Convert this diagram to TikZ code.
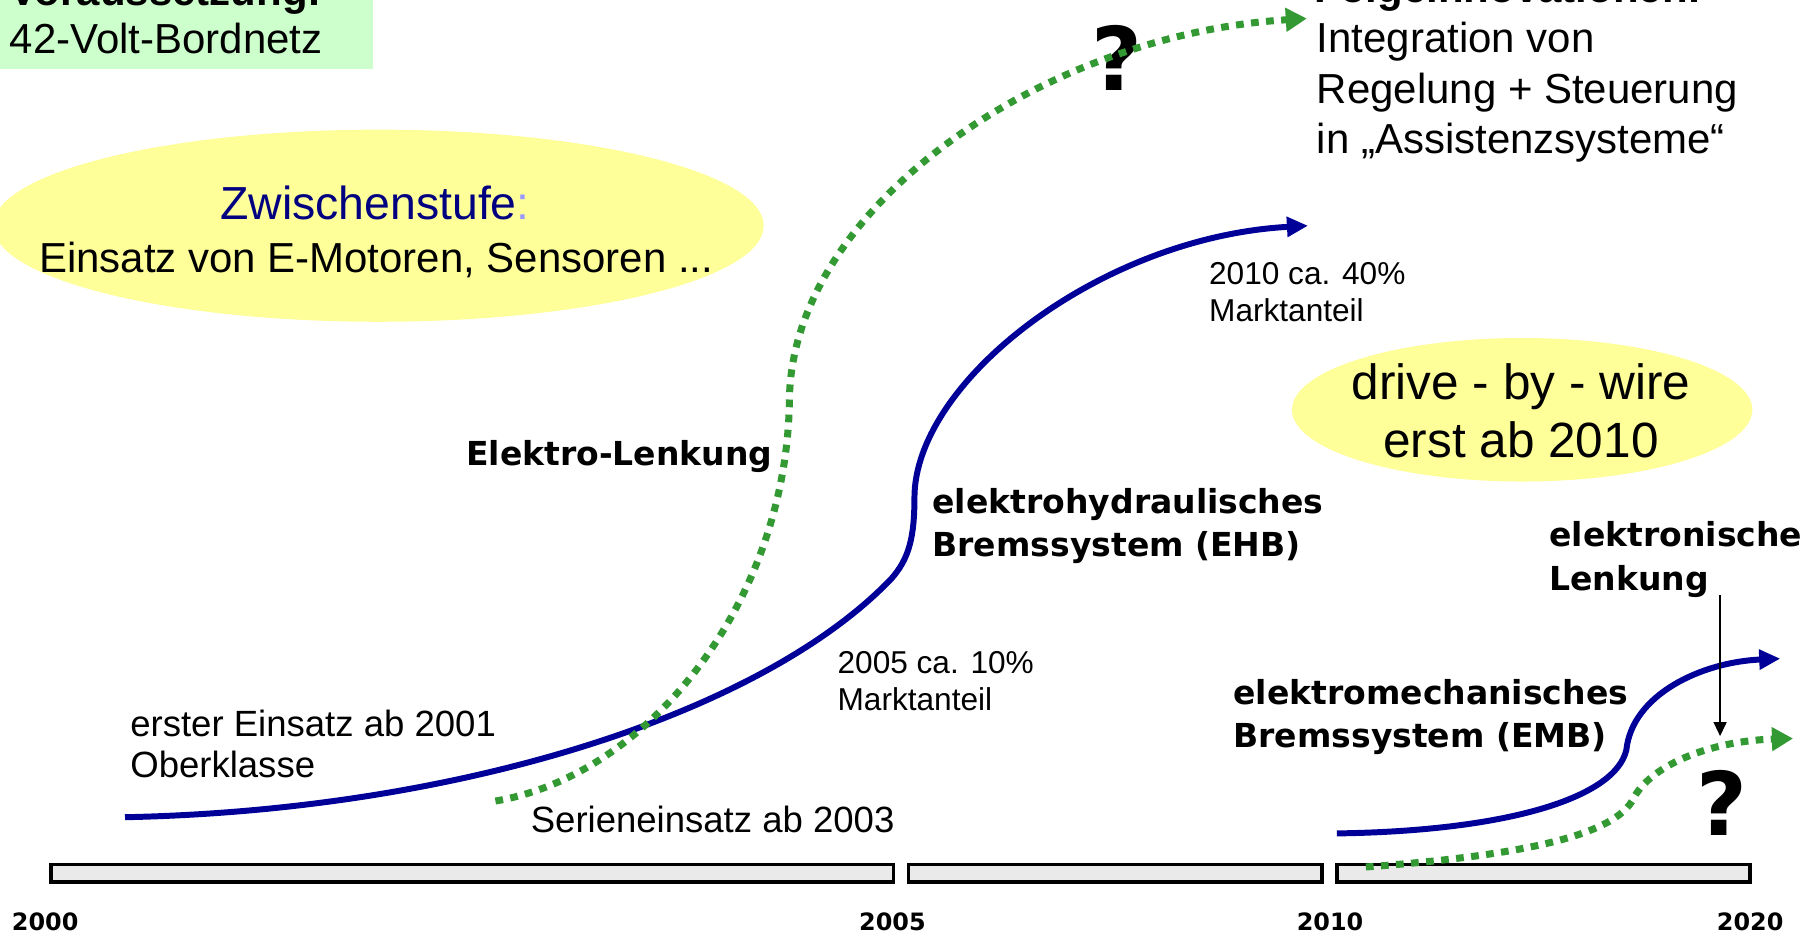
\documentclass[tikz,border=0pt]{standalone}
\usepackage{fontspec}
\setmainfont{Liberation Sans}
\newfontfamily\verd{DejaVu Sans}
\usetikzlibrary{arrows.meta}
\definecolor{navy}{HTML}{000099}
\definecolor{leafgreen}{HTML}{339933}
\definecolor{paleyellow}{HTML}{FFFF99}
\definecolor{palegreen}{HTML}{CCFFCC}
\definecolor{bargray}{HTML}{EAEAEA}
\definecolor{ink}{HTML}{000080}
\definecolor{lilac}{HTML}{9999FF}

\begin{document}
\begin{tikzpicture}[x=0.011575cm,y=-0.011575cm,
  txt/.style={inner sep=0pt,anchor=base west,align=left},
  big/.style={txt,font=\fontsize{11.95}{14.5}\selectfont},
  mid/.style={txt,font=\fontsize{10.4}{11.9}\selectfont},
  small/.style={txt,font=\fontsize{9}{10.5}\selectfont},
  lab/.style={txt,font=\verd\bfseries\fontsize{9.4}{12.4}\selectfont},
  yr/.style={inner sep=0pt,anchor=base,font=\verd\bfseries\fontsize{6.8}{8}\selectfont},
  qmark/.style={inner sep=0pt,font=\verd\bfseries\fontsize{25}{25}\selectfont},
  curve/.style={line width=1.7pt,navy,-{Triangle[length=6pt,width=5.5pt]}},
  dots/.style={line width=2pt,leafgreen,dash pattern=on 2.2pt off 2.1pt,-{Triangle[length=6pt,width=6.5pt]}}]
\path[use as bounding box] (0,0) rectangle (1568,809);
\clip (0,0) rectangle (1568,809);

% backgrounds
\fill[palegreen] (0,0) rectangle (322,60);
\fill[paleyellow] (327,195) ellipse [x radius=3.854cm, y radius=0.961cm];
\fill[paleyellow] (1315,354) ellipse [x radius=2.303cm, y radius=0.718cm];

% time axis
\foreach \a/\b in {44/772,785/1142,1155/1512}{
  \draw[fill=bargray,line width=1pt] (\a,747) rectangle (\b,762);
}
\foreach \yr/\x in {2000/39,2005/771,2010/1149,2020/1512}{
  \node[yr] (y\yr) at (\x,804) {\yr};
}

% texts (multi-line nodes sit on their last line)
\node[big] (vor) at (8,5) {\bfseries Voraussetzung:};
\node[big] (bord) at (8,46) {42-Volt-Bordnetz};
\node[big] (folge) at (1135,2) {\bfseries Folgeinnovationen:};
\node[big] (integ) at (1137,133) {Integration von\\Regelung + Steuerung\\in „Assistenzsysteme“};
\node[txt,anchor=base,font=\fontsize{13.2}{16}\selectfont,text=ink] (zw) at (324,190) {Zwischenstufe\textcolor{lilac}{:}};
\node[big,anchor=base] (einsatz) at (325,235) {Einsatz von E-Motoren, Sensoren ...};
\node[txt,anchor=base,align=center,font=\fontsize{14.1}{16.5}\selectfont] (dbw) at (1314,395) {drive - by - wire\\erst ab 2010};
\node[lab,anchor=base east] (elenk) at (668,402) {Elektro-Lenkung};
\node[lab] (ehb) at (805,481) {elektrohydraulisches\\Bremssystem (EHB)};
\node[small] (m05) at (723,614) {2005 ca. 10\%\\Marktanteil};
\node[small] (m10) at (1044,278) {2010 ca. 40\%\\Marktanteil};
\node[mid] (erst) at (112,672) {erster Einsatz ab 2001\\Oberklasse};
\node[mid] (serie) at (458,719) {Serieneinsatz ab 2003};
\node[lab] (emb) at (1065,646) {elektromechanisches\\Bremssystem (EMB)};
\node[lab] (elek) at (1338,510) {elektronische\\Lenkung};
\node[qmark] (q1) at (965,50) {?};
\node[qmark] (q2) at (1488,694) {?};

% curves
\coordinate (ehb0) at (108,706);
\coordinate (ehb1) at (770,500);
\coordinate (ehb2) at (790,430);
\coordinate (ehb3) at (1130,195);
\draw[curve] (ehb0) .. controls (400,700) and (660,615) .. (ehb1)
  .. controls (785,483) and (790,465) .. (ehb2)
  .. controls (790,330) and (950,205) .. (ehb3);
\coordinate (emb0) at (1155,720);
\coordinate (emb1) at (1405,648);
\coordinate (emb2) at (1538,569);
\draw[curve] (emb0) .. controls (1300,718) and (1395,690) .. (emb1)
  .. controls (1410,600) and (1470,572) .. (emb2);

\coordinate (lenk0) at (428,692);
\coordinate (lenk1) at (682,345);
\coordinate (lenk2) at (1129,16);
\draw[dots] (lenk0) .. controls (560,670) and (680,520) .. (lenk1)
  .. controls (684,180) and (900,30) .. (lenk2);
\coordinate (el0) at (1180,749);
\coordinate (el1) at (1410,692);
\coordinate (el2) at (1549,638);
\draw[dots] (el0) .. controls (1300,740) and (1390,725) .. (el1)
  .. controls (1425,660) and (1480,640) .. (el2);

\coordinate (lktop) at (1486,514);
\coordinate (lkend) at (1486,636);
\draw[line width=0.7pt,-{Triangle[length=4pt,width=3.6pt]}] (lktop) -- (lkend);
\end{tikzpicture}
\end{document}
